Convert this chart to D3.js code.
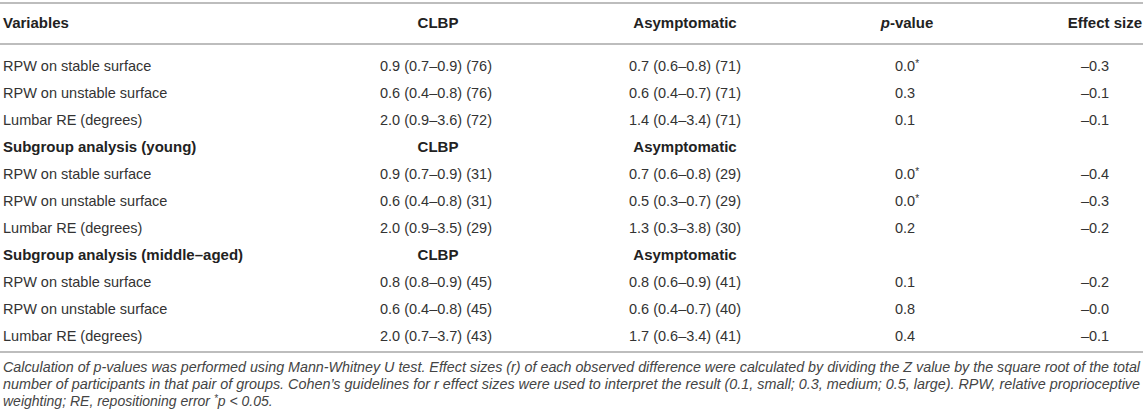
<!DOCTYPE html>
<html>
<head>
<meta charset="utf-8">
<script src="https://cdn.jsdelivr.net/npm/d3@7"></script>
<style>
  body { margin: 0; background: #fff; }
  text { font-family: "Liberation Sans", Arial, sans-serif; }
</style>
</head>
<body>
<div id="chart"></div>
<script>
// table content
const columns = ["Variables", "CLBP", "Asymptomatic", "p-value", "Effect size"];
const groups = ["", "Subgroup analysis (young)", "Subgroup analysis (middle–aged)"];
const variables = ["RPW on stable surface", "RPW on unstable surface", "Lumbar RE (degrees)"];

const clbpMedian = [0.9, 0.6, 2.0, 0.9, 0.6, 2.0, 0.8, 0.6, 2.0];
const clbpQ1 = [0.7, 0.4, 0.9, 0.7, 0.4, 0.9, 0.8, 0.4, 0.7];
const clbpQ3 = [0.9, 0.8, 3.6, 0.9, 0.8, 3.5, 0.9, 0.8, 3.7];
const clbpN = [76, 76, 72, 31, 31, 29, 45, 45, 43];

const asymMedian = [0.7, 0.6, 1.4, 0.7, 0.5, 1.3, 0.8, 0.6, 1.7];
const asymQ1 = [0.6, 0.4, 0.4, 0.6, 0.3, 0.3, 0.6, 0.4, 0.6];
const asymQ3 = [0.8, 0.7, 3.4, 0.8, 0.7, 3.8, 0.9, 0.7, 3.4];
const asymN = [71, 71, 71, 29, 29, 30, 41, 40, 41];

const pValues = [0.0, 0.3, 0.1, 0.0, 0.0, 0.2, 0.1, 0.8, 0.4];
const significant = [true, false, false, true, true, false, false, false, false];
const effectSizes = [-0.3, -0.1, -0.1, -0.4, -0.3, -0.2, -0.2, -0.0, -0.1];

const footnote = [
  "Calculation of p-values was performed using Mann-Whitney U test. Effect sizes (r) of each observed difference were calculated by dividing the Z value by the square root of the total",
  "number of participants in that pair of groups. Cohen’s guidelines for r effect sizes were used to interpret the result (0.1, small; 0.3, medium; 0.5, large). RPW, relative proprioceptive",
  "weighting; RE, repositioning error *p < 0.05."
];

//setup
const width = 1143, height = 420;
const f1 = d3.format(".1f");
const fmtEffect = v => (v < 0 || Object.is(v, -0)) ? "–" + f1(Math.abs(v)) : f1(v);
const fmtCell = (m, a, b, n) => f1(m) + " (" + f1(a) + "–" + f1(b) + ") (" + n + ")";

// build the row list: group header rows and data rows
const rows = [];
groups.forEach((g, gi) => {
  if (g) rows.push({type: "group", label: g});
  variables.forEach((v, vi) => {
    const i = gi * variables.length + vi;
    rows.push({
      type: "data",
      label: v,
      clbp: fmtCell(clbpMedian[i], clbpQ1[i], clbpQ3[i], clbpN[i]),
      asym: fmtCell(asymMedian[i], asymQ1[i], asymQ3[i], asymN[i]),
      p: f1(pValues[i]),
      sig: significant[i],
      es: fmtEffect(effectSizes[i])
    });
  });
});

const svg = d3.select("#chart").append("svg")
  .attr("width", width)
  .attr("height", height);

const y = d3.scaleBand()
  .domain(d3.range(rows.length))
  .range([52.5, 52.5 + rows.length * 27]);
const yc = i => y(i) + y.bandwidth() / 2;

// column anchors
const colX = d3.scaleOrdinal()
  .domain(["label", "clbp", "asym", "p", "es"])
  .range([3, 436, 685, 895, 1095]);

// rules
const rule = yy => svg.append("line")
  .attr("x1", 0).attr("x2", width)
  .attr("y1", yy).attr("y2", yy)
  .attr("stroke", "#bdbdbd").attr("stroke-width", 2);
rule(3);
rule(44);
rule(352);

// header
const header = svg.append("g")
  .attr("font-weight", "bold")
  .attr("font-size", 15)
  .attr("fill", "#222");
header.append("text").attr("x", colX("label")).attr("y", 27.5).text(columns[0]);
header.append("text").attr("x", colX("clbp") + 2).attr("y", 27.5).attr("text-anchor", "middle").text(columns[1]);
header.append("text").attr("x", colX("asym")).attr("y", 27.5).attr("text-anchor", "middle").text(columns[2]);
const ph = header.append("text").attr("x", 907).attr("y", 27.5).attr("text-anchor", "middle");
ph.append("tspan").attr("font-style", "italic").text("p");
ph.append("tspan").text("-value");
header.append("text").attr("x", width - 1).attr("y", 27.5).attr("text-anchor", "end").text(columns[4]);

// body
const body = svg.append("g").attr("font-size", 14.5).attr("fill", "#333");
const r = body.selectAll("g.row")
  .data(rows)
  .join("g")
  .attr("class", "row")
  .attr("transform", (d, i) => "translate(0," + (yc(i) + 5) + ")");

r.append("text")
  .attr("x", colX("label"))
  .attr("font-weight", d => d.type === "group" ? "bold" : null)
  .attr("font-size", d => d.type === "group" ? 15 : null)
  .attr("fill", d => d.type === "group" ? "#222" : null)
  .text(d => d.label);

const g = r.filter(d => d.type === "group");
g.append("text").attr("x", colX("clbp") + 2).attr("text-anchor", "middle")
  .attr("font-weight", "bold").attr("font-size", 15).attr("fill", "#222").text(columns[1]);
g.append("text").attr("x", colX("asym")).attr("text-anchor", "middle")
  .attr("font-weight", "bold").attr("font-size", 15).attr("fill", "#222").text(columns[2]);

const dr = r.filter(d => d.type === "data");
dr.append("text").attr("x", colX("clbp")).attr("text-anchor", "middle").text(d => d.clbp);
dr.append("text").attr("x", colX("asym")).attr("text-anchor", "middle").text(d => d.asym);
const pt = dr.append("text").attr("x", colX("p"));
pt.append("tspan").text(d => d.p);
pt.filter(d => d.sig).append("tspan").attr("dy", -4).attr("font-size", 10).text("*");
dr.append("text").attr("x", colX("es")).attr("text-anchor", "middle").text(d => d.es);

// footnote
const fn = svg.append("g")
  .attr("font-size", 14)
  .attr("font-style", "italic")
  .attr("fill", "#444")
  .selectAll("text")
  .data(footnote)
  .join("text")
  .attr("x", 3)
  .attr("y", (d, i) => 372 + i * 17)
  .attr("textLength", (d, i) => i < 2 ? 1137 : null)
  .attr("lengthAdjust", "spacingAndGlyphs");

// the asterisk is set as a superscript
fn.each(function(d) {
  const parts = d.split("*");
  const t = d3.select(this);
  parts.forEach((s, k) => {
    if (k > 0) {
      t.append("tspan").attr("dy", -4).attr("font-size", 10).text("*");
      t.append("tspan").attr("dy", 4).text(s);
    } else {
      t.append("tspan").text(s);
    }
  });
});
</script>
</body>
</html>
